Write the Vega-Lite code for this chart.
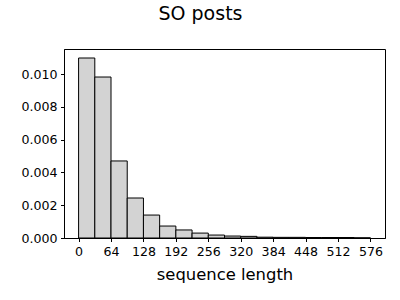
{
  "$schema": "https://vega.github.io/schema/vega-lite/v6.json",
  "width": 321,
  "height": 189,
  "autosize": {"type": "none"},
  "padding": {"left": 64, "top": 49, "right": 15, "bottom": 62},
  "background": "white",
  "title": {"text": "SO posts", "fontSize": 19, "font": "DejaVu Sans", "fontWeight": "normal", "color": "black", "anchor": "middle", "dx": -24, "offset": 25},
  "config": {
    "view": {"stroke": "black", "strokeWidth": 1},
    "axis": {"grid": false, "domainColor": "black", "tickColor": "black", "labelColor": "black", "titleColor": "black", "labelFont": "DejaVu Sans", "titleFont": "DejaVu Sans", "labelFontSize": 12.6, "titleFontSize": 16.4, "titleFontWeight": "normal", "tickSize": 3.5, "labelPadding": 3.5}
  },
  "data": {"values": [
    {"start": 0, "end": 32, "density": 0.01098},
    {"start": 32, "end": 64, "density": 0.00982},
    {"start": 64, "end": 96, "density": 0.00470},
    {"start": 96, "end": 128, "density": 0.00244},
    {"start": 128, "end": 160, "density": 0.00140},
    {"start": 160, "end": 192, "density": 0.00073},
    {"start": 192, "end": 224, "density": 0.00049},
    {"start": 224, "end": 256, "density": 0.00030},
    {"start": 256, "end": 288, "density": 0.00018},
    {"start": 288, "end": 320, "density": 0.00012},
    {"start": 320, "end": 352, "density": 0.00010},
    {"start": 352, "end": 384, "density": 0.00005},
    {"start": 384, "end": 416, "density": 0.00004},
    {"start": 416, "end": 448, "density": 0.00004},
    {"start": 448, "end": 480, "density": 0.00003},
    {"start": 480, "end": 512, "density": 0.00003},
    {"start": 512, "end": 544, "density": 0.00003},
    {"start": 544, "end": 576, "density": 0.00001}
  ]},
  "mark": {"type": "rect", "fill": "#d3d3d3", "stroke": "black", "strokeWidth": 1},
  "encoding": {
    "x": {"field": "start", "type": "quantitative", "scale": {"domain": [-28.8, 604.8], "nice": false, "zero": false},
      "axis": {"values": [0, 64, 128, 192, 256, 320, 384, 448, 512, 576], "title": "sequence length", "titlePadding": 9}},
    "x2": {"field": "end"},
    "y": {"field": "density", "type": "quantitative", "scale": {"domain": [0, 0.01153], "nice": false},
      "axis": {"values": [0, 0.002, 0.004, 0.006, 0.008, 0.01], "format": ".3f", "title": null}},
    "y2": {"datum": 0}
  }
}
